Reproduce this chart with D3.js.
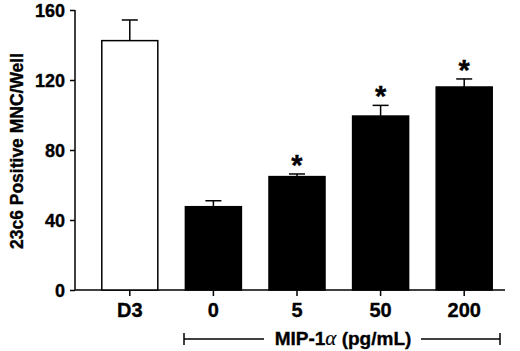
<!DOCTYPE html>
<html>
<head>
<meta charset="utf-8">
<script src="https://cdn.jsdelivr.net/npm/d3@7/dist/d3.min.js"></script>
<style>
  body { margin: 0; background: #fff; }
  text { font-family: "Liberation Sans", Arial, sans-serif; font-weight: bold; fill: #000; stroke: #000; stroke-width: 0.35px; }
</style>
</head>
<body>
<svg id="chart" width="520" height="351"></svg>
<script>
// data
var groups = ["D3", "0", "5", "50", "200"];
var means = [142.5, 47.6, 64.8, 99.4, 116];
var errTop = [154.3, 51, 66.3, 105.5, 120.6];
var starred = [false, false, true, true, true];
var fills = ["#fff", "#000", "#000", "#000", "#000"];
var yTicks = [0, 40, 80, 120, 160];

var svg = d3.select("#chart");

var y = d3.scaleLinear().domain([0, 160]).range([290, 10]);
var x = d3.scaleBand().domain(groups).range([88, 506])
  .paddingInner(0.33).paddingOuter(0.165);

// y axis
var yAxis = svg.append("g").attr("transform", "translate(75,0)")
  .call(d3.axisLeft(y).tickValues(yTicks).tickSize(5).tickPadding(5));
yAxis.select(".domain").attr("stroke-width", 1.5).attr("d", "M0," + y(160) + "V" + y(0));
yAxis.selectAll(".tick line").attr("stroke-width", 1.5);
yAxis.selectAll(".tick text").style("font-size", "18px").attr("dy", "0.36em");

// x axis
var xAxis = svg.append("g").attr("transform", "translate(0,290)")
  .call(d3.axisBottom(x).tickSize(6).tickPadding(7));
xAxis.select(".domain").attr("stroke-width", 1.5).attr("d", "M75,0H505");
xAxis.selectAll(".tick line").attr("stroke-width", 1.5);
xAxis.selectAll(".tick text").style("font-size", "20px").attr("dy", "0.71em");

// bars
svg.selectAll("rect.bar").data(groups).enter().append("rect")
  .attr("class", "bar")
  .attr("x", function(d) { return x(d); })
  .attr("y", function(d, i) { return y(means[i]); })
  .attr("width", x.bandwidth())
  .attr("height", function(d, i) { return y(0) - y(means[i]); })
  .attr("fill", function(d, i) { return fills[i]; })
  .attr("stroke", "#000").attr("stroke-width", 1.5);

// error bars (upper only)
var eb = svg.selectAll("g.err").data(groups).enter().append("g").attr("class", "err");
eb.append("line")
  .attr("x1", function(d) { return x(d) + x.bandwidth() / 2; })
  .attr("x2", function(d) { return x(d) + x.bandwidth() / 2; })
  .attr("y1", function(d, i) { return y(means[i]); })
  .attr("y2", function(d, i) { return y(errTop[i]); })
  .attr("stroke", "#000").attr("stroke-width", 1.5);
eb.append("line")
  .attr("x1", function(d) { return x(d) + x.bandwidth() / 2 - 8; })
  .attr("x2", function(d) { return x(d) + x.bandwidth() / 2 + 8; })
  .attr("y1", function(d, i) { return y(errTop[i]); })
  .attr("y2", function(d, i) { return y(errTop[i]); })
  .attr("stroke", "#000").attr("stroke-width", 1.5);

// significance stars
svg.selectAll("text.star").data(groups.filter(function(d, i) { return starred[i]; }))
  .enter().append("text").attr("class", "star")
  .attr("x", function(d) { return x(d) + x.bandwidth() / 2; })
  .attr("y", function(d) { return y(errTop[groups.indexOf(d)]) + 1; })
  .attr("text-anchor", "middle")
  .style("font-size", "29px")
  .text("*");

// y title
svg.append("text")
  .attr("transform", "translate(23,151) rotate(-90)")
  .attr("text-anchor", "middle")
  .style("font-size", "17.5px")
  .text("23c6 Positive MNC/Well");

// MIP-1α bracket
var br = svg.append("g").attr("stroke", "#000").attr("stroke-width", 1.5);
br.append("line").attr("x1", 184).attr("x2", 264).attr("y1", 339).attr("y2", 339);
br.append("line").attr("x1", 421).attr("x2", 500).attr("y1", 339).attr("y2", 339);
br.append("line").attr("x1", 184).attr("x2", 184).attr("y1", 333).attr("y2", 345);
br.append("line").attr("x1", 500).attr("x2", 500).attr("y1", 333).attr("y2", 345);
var mip = svg.append("text")
  .attr("x", 343).attr("y", 345)
  .attr("text-anchor", "middle")
  .style("font-size", "19px");
mip.append("tspan").text("MIP-1");
mip.append("tspan").style("font-family", "'Liberation Serif', serif").style("font-style", "italic").style("font-weight", "normal").style("stroke-width", "0.2px").style("font-size", "21px").text("α");
mip.append("tspan").text(" (pg/mL)");
</script>
</body>
</html>
